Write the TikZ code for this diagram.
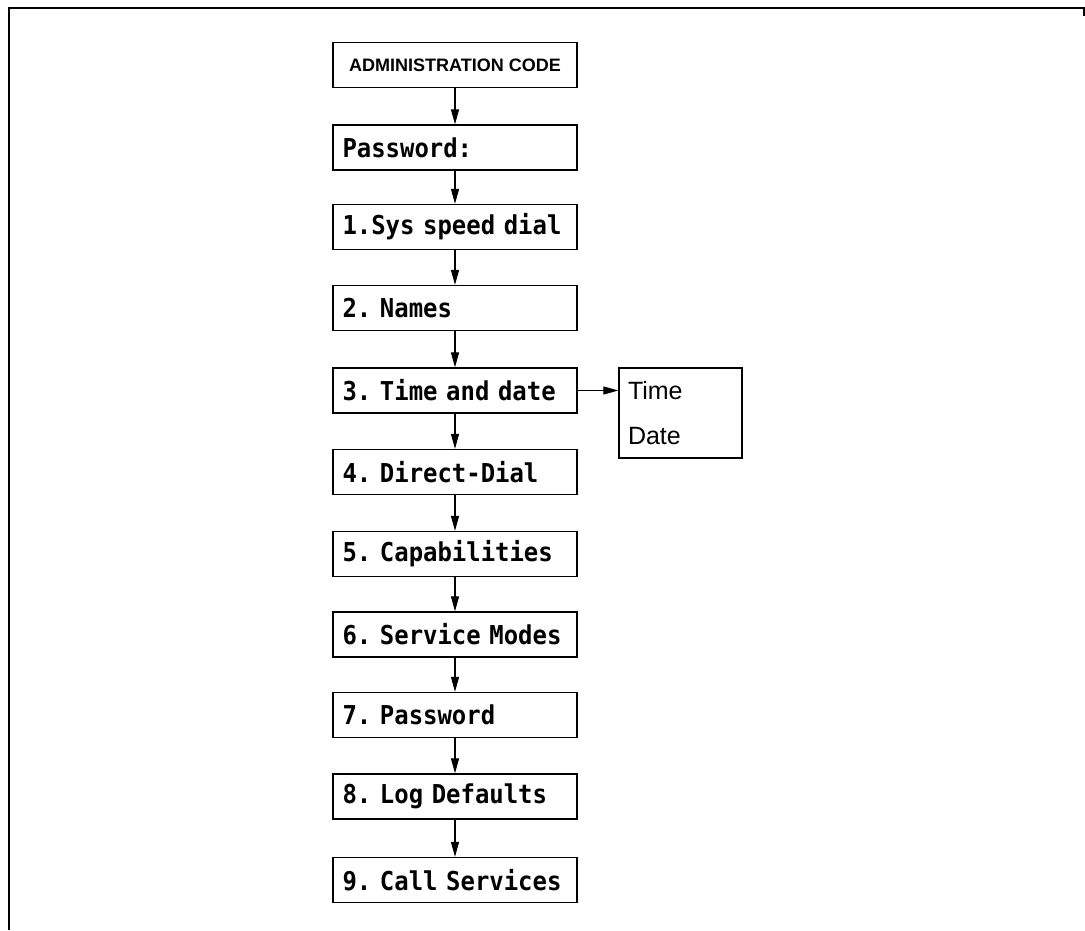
\documentclass[tikz,border=0pt]{standalone}
\usepackage{fontspec}
\setmainfont{Liberation Sans}
\newfontfamily\dotfont[FakeStretch=0.92]{DejaVu Sans Mono}
\newcommand\dotsetup{\dotfont\fontsize{26}{30}\selectfont\bfseries\frenchspacing
  \spaceskip=\fontcharwd\font`\0\relax\xspaceskip=\spaceskip}
\usetikzlibrary{arrows.meta}
\begin{document}
\begin{tikzpicture}[x=1pt,y=-1pt,
  menubox/.style={draw, line width=1.3pt, minimum width=244pt, minimum height=45pt,
    inner xsep=9.5pt, inner ysep=0pt, text width=225pt, align=left,
    font=\dotsetup},
  headbox/.style={draw, line width=1.3pt, minimum width=244pt, minimum height=45pt,
    inner sep=0pt, align=center, font=\fontsize{18}{22}\selectfont\bfseries},
  sidebox/.style={draw, line width=1.3pt, minimum width=123pt, minimum height=90pt,
    inner xsep=9pt, inner ysep=0pt, text width=105pt, align=left,
    font=\fontsize{25}{45}\selectfont},
  flow/.style={line width=1.2pt, -{Triangle[length=15pt,width=8pt]}}]
\useasboundingbox (0,0) rectangle (1085,930);
\fill[white] (0,0) rectangle (1085,930);
% outer frame
\coordinate (fa) at (9,930);
\coordinate (fb) at (9,8);
\coordinate (fc) at (1084,8);
\coordinate (fd) at (1084,16);
\draw[line width=2pt] (fa) -- (fb) -- (fc) -- (fd);
% boxes
\node[headbox] (adm) at (455,65) {ADMINISTRATION CODE};
\node[menubox] (pw)  at (455,147.5) {Password:};
\node[menubox] (b1)  at (455,227) {1.Sys speed dial};
\node[menubox] (b2)  at (455,308) {2. Names};
\node[menubox] (b3)  at (455,390.5) {3. Time and date};
\node[menubox] (b4)  at (455,472) {4. Direct-Dial};
\node[menubox] (b5)  at (455,554) {5. Capabilities};
\node[menubox] (b6)  at (455,634.5) {6. Service Modes};
\node[menubox] (b7)  at (455,715) {7. Password};
\node[menubox] (b8)  at (455,796.5) {8. Log Defaults};
\node[menubox] (b9)  at (455,880) {9. Call Services};
\node[sidebox] (td)  at (680.5,413) {Time\\Date};
% connectors
\foreach \a/\b in {adm/pw,pw/b1,b1/b2,b2/b3,b3/b4,b4/b5,b5/b6,b6/b7,b7/b8,b8/b9}
  \draw[flow] (\a.south) -- (\b.north);
\draw[flow] (b3.east) -- (b3.east -| td.west);
\end{tikzpicture}
\end{document}
